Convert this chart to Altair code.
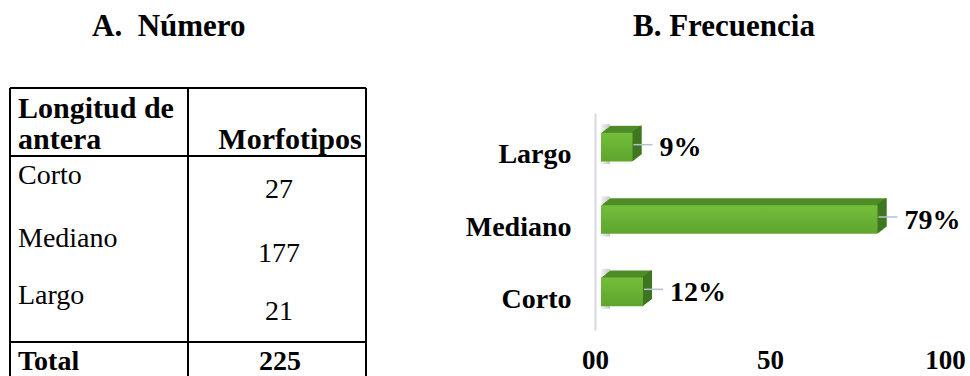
import altair as alt
import pandas as pd

# ---- Panel A: morphotype counts per anther length ----
lengths = ["Corto", "Mediano", "Largo"]
counts = [27, 177, 21]
total_label = "Total"
total_count = 225

# ---- Panel B: share of morphotypes per class (as printed on the bars) ----
bar_classes = ["Largo", "Mediano", "Corto"]
bar_pct = [9, 79, 12]
x_ticks = [0, 50, 100]

title_a = "A.\u00a0 Número"
title_b = "B. Frecuencia"
head_1 = ["Longitud de", "antera"]
head_2 = "Morfotipos"

SERIF = "Liberation Serif"
INK = "#000000"
FRONT_TOP = "#74be3c"
FRONT_BOTTOM = "#5ea52c"
TOP_FACE = "#4f8c27"
SIDE_FACE = "#3e7620"
LEADER = "#b5c1d1"
AXIS_LINE = "#d5dae2"

one = pd.DataFrame({"k": [0]})

bars = pd.DataFrame({
    "clase": bar_classes,
    "pct": bar_pct,
    "etiqueta": [f"{v}%" for v in bar_pct],
})

# ---------------- table (panel A) ----------------
layers = []

def txt(text, x, y, size, bold=False, align="left"):
    return alt.Chart(one).mark_text(
        font=SERIF, fontSize=size, fontWeight="bold" if bold else "normal",
        align=align, baseline="alphabetic", color=INK,
    ).encode(x=alt.value(x), y=alt.value(y), text=alt.value(text))

def rule(x1, y1, x2, y2, w=2):
    return alt.Chart(one).mark_rule(color=INK, strokeWidth=w).encode(
        x=alt.value(x1), x2=alt.value(x2), y=alt.value(y1), y2=alt.value(y2))

# grid lines of the table
TL, TR, TD = 10, 366, 188
TT, TH, TTOT, TB = 88, 156, 342, 380
layers += [
    rule(TL, TT, TR, TT), rule(TL, TH, TR, TH), rule(TL, TTOT, TR, TTOT),
    rule(TL, TT, TL, TB), rule(TD, TT, TD, TB), rule(TR, TT, TR, TB),
]

# headers
layers += [
    txt(head_1[0], 18, 118, 30, bold=True),
    txt(head_1[1], 18, 149, 30, bold=True),
    txt(head_2, 290, 149, 30, bold=True, align="center"),
]

# body rows
label_base = [184, 247, 304]
value_base = [198, 262, 320]
for name, n, yl, yv in zip(lengths, counts, label_base, value_base):
    layers.append(txt(name, 18, yl, 28))
    layers.append(txt(str(n), 279, yv, 28, align="center"))

layers += [
    txt(total_label, 18, 370, 28, bold=True),
    txt(str(total_count), 280, 370, 28, bold=True, align="center"),
]

# panel titles
layers += [
    txt(title_a, 92, 36, 31, bold=True),
    txt(title_b, 633, 36, 31, bold=True),
]

# ---------------- 3-D bar chart (panel B) ----------------
x_scale = alt.Scale(domain=[0, 100], range=[595, 945], nice=False, zero=True)
y_scale = alt.Scale(domain=bar_classes, range=[113, 330],
                    paddingInner=0.604, paddingOuter=0.302)

x_axis = alt.Axis(
    values=x_ticks, title=None, domain=False, ticks=False, tickSize=0,
    grid=False, labelPadding=0, labelBaseline="middle", offset=-16,
    labelFont=SERIF, labelFontSize=27, labelFontWeight="bold",
    labelColor=INK, labelAngle=0, labelFlush=False, labelOverlap=False,
    labelExpr="datum.value === 0 ? '00' : datum.label",
)
y_axis = alt.Axis(
    title=None, domain=True, domainColor=AXIS_LINE, domainWidth=2,
    ticks=False, tickSize=0, grid=False, labelPadding=24, offset=-595,
    labelOffset=6, labelFont=SERIF, labelFontSize=28, labelFontWeight="bold",
    labelColor=INK,
)

X = alt.X("pct:Q", scale=x_scale, axis=x_axis)
X2 = alt.X2("pct")
Y = alt.Y("clase:N", scale=y_scale, axis=y_axis, sort=bar_classes)

base = alt.Chart(bars)
DEPTH = 9
RISE = 0.78
SHIFT = 6
LIFT = -2

# soft shadow cast on the back wall, mostly hidden behind each bar
shadow_fill = alt.LinearGradient(
    gradient="linear", x1=0, x2=1, y1=0, y2=0,
    stops=[alt.GradientStop(color="#f4f4f4", offset=0),
           alt.GradientStop(color="#c4c4c4", offset=1)],
)
layers.append(base.mark_bar(
    color=shadow_fill, height=40, xOffset=SHIFT, x2Offset=SHIFT + 9,
    yOffset=LIFT - 3,
).encode(x=alt.X(datum=0, type="quantitative", scale=x_scale, axis=x_axis),
         x2=alt.X2(datum=0), y=Y))

# top face: stacked copies stepping back and up
for i in range(DEPTH, 0, -1):
    layers.append(base.mark_bar(
        color=TOP_FACE, xOffset=SHIFT + i, x2Offset=SHIFT + i,
        yOffset=LIFT - RISE * i,
    ).encode(x=X, y=Y))

# side face: thin slices at the right end of each step
for i in range(1, DEPTH + 1):
    layers.append(base.mark_bar(
        color=SIDE_FACE, xOffset=SHIFT + i - 1.4, x2Offset=SHIFT + i,
        yOffset=LIFT - RISE * i,
    ).encode(x=X, x2=X2, y=Y))

# front face
front_fill = alt.LinearGradient(
    gradient="linear", x1=0, x2=0, y1=0, y2=1,
    stops=[alt.GradientStop(color=FRONT_TOP, offset=0),
           alt.GradientStop(color=FRONT_BOTTOM, offset=1)],
)
layers.append(base.mark_bar(
    color=front_fill, xOffset=SHIFT, x2Offset=SHIFT, yOffset=LIFT,
).encode(x=X, y=Y))

# leader lines and value labels
layers.append(base.mark_rule(
    color=LEADER, strokeWidth=1.5, xOffset=7, x2Offset=26, yOffset=-4.5,
).encode(x=X, x2=X2, y=Y))
layers.append(base.mark_text(
    font=SERIF, fontSize=28, fontWeight="bold", color=INK,
    align="left", baseline="middle", dx=33, dy=-1,
).encode(x=X, y=Y, text="etiqueta:N"))

chart = alt.layer(*layers).properties(
    width=970, height=376, padding=0,
    autosize=alt.AutoSizeParams(type="none"),
).configure_view(strokeWidth=0)

chart.save("out.html", embed_options={"renderer": "svg", "actions": False})
